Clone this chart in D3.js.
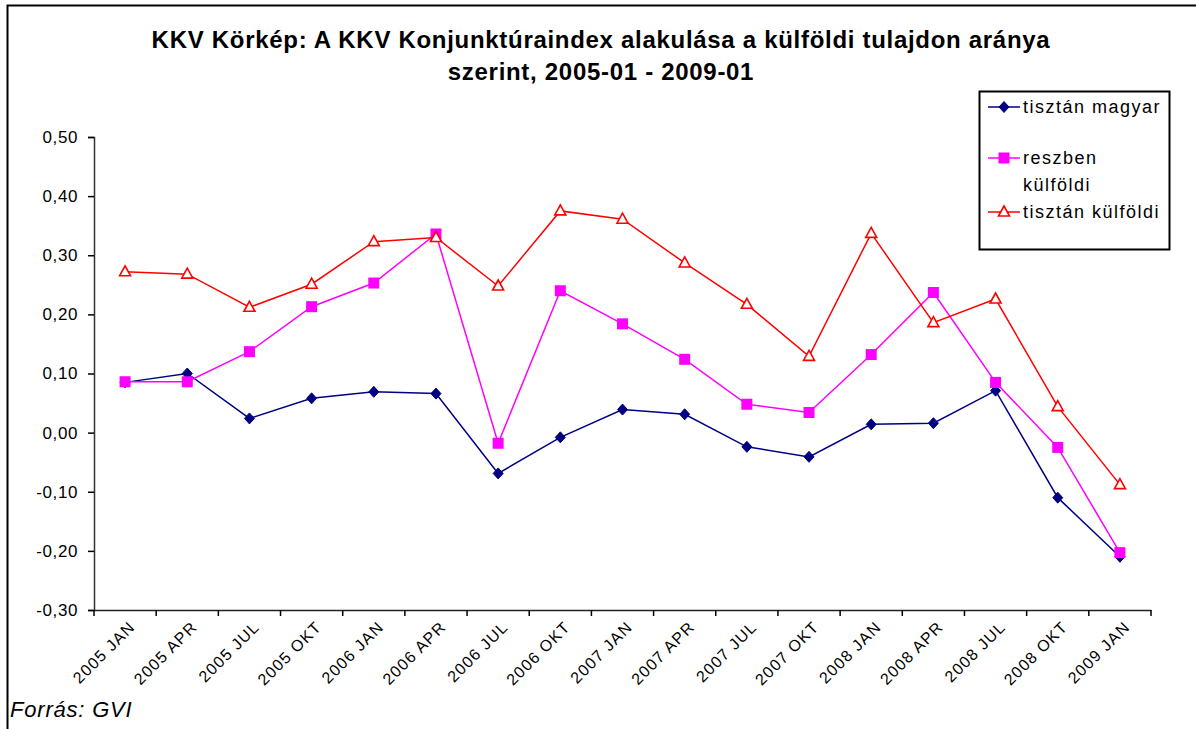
<!DOCTYPE html>
<html>
<head>
<meta charset="utf-8">
<script src="https://cdn.jsdelivr.net/npm/d3@7"></script>
<style>
body { margin: 0; background: #fff; }
svg { display: block; font-family: "Liberation Sans", Arial, sans-serif; }
</style>
</head>
<body>
<div id="chart"></div>
<script>
var categories = ["2005 JAN", "2005 APR", "2005 JUL", "2005 OKT", "2006 JAN", "2006 APR", "2006 JUL", "2006 OKT",
    "2007 JAN", "2007 APR", "2007 JUL", "2007 OKT", "2008 JAN", "2008 APR", "2008 JUL", "2008 OKT", "2009 JAN"];

var magyar = [0.085, 0.100, 0.024, 0.058, 0.069, 0.066, -0.069, -0.008, 0.039, 0.031, -0.024, -0.041, 0.014, 0.016, 0.071, -0.110, -0.210];
var reszben = [0.086, 0.086, 0.137, 0.213, 0.253, 0.336, -0.018, 0.240, 0.184, 0.124, 0.048, 0.034, 0.132, 0.237, 0.085, -0.025, -0.203];
var kulfoldi = [0.272, 0.268, 0.212, 0.251, 0.323, 0.330, 0.248, 0.375, 0.361, 0.287, 0.217, 0.129, 0.337, 0.186, 0.226, 0.044, -0.088];

var yTicks = [0.5, 0.4, 0.3, 0.2, 0.1, 0, -0.1, -0.2, -0.3];

var series = [
    {name: "tisztán magyar", values: magyar, color: "#000080", marker: "diamond"},
    {name: "reszben külföldi", values: reszben, color: "#ff00ff", marker: "square"},
    {name: "tisztán külföldi", values: kulfoldi, color: "#ff0000", marker: "triangle"}
];

var W = 1196, H = 729;
var plotLeft = 94, plotRight = 1151, plotTop = 137, plotBottom = 610;

var svg = d3.select("#chart").append("svg")
    .attr("width", W)
    .attr("height", H);

// outer frame (right/bottom edge fall outside the picture)
svg.append("rect")
    .attr("x", 7.5).attr("y", 5.5)
    .attr("width", 1210).attr("height", 760)
    .attr("fill", "none").attr("stroke", "#000").attr("stroke-width", 2);

var x = d3.scaleBand().domain(categories).range([plotLeft, plotRight]);
var y = d3.scaleLinear().domain([-0.3, 0.5]).range([plotBottom, plotTop]);

var fmt = function(v) {
    return d3.format(".2f")(v).replace(".", ",").replace("−", "-");
};

// y axis
var yAxis = svg.append("g")
    .attr("transform", "translate(" + plotLeft + ",0)")
    .call(d3.axisLeft(y).tickValues(yTicks).tickSize(6).tickPadding(10).tickFormat(fmt));
yAxis.select(".domain").attr("stroke", "#333").attr("stroke-width", 1.5);
yAxis.selectAll(".tick line").attr("stroke", "#000").attr("stroke-width", 1.5);
yAxis.selectAll("text").attr("font-size", 17).attr("fill", "#000").attr("letter-spacing", 0.6);

// x axis
var xAxis = svg.append("g")
    .attr("transform", "translate(0," + plotBottom + ")")
    .call(d3.axisBottom(x).tickSize(0).tickFormat(""));
xAxis.select(".domain").attr("stroke", "#222").attr("stroke-width", 1.5);
xAxis.selectAll(".tick").remove();

var tickPos = categories.map(function(c) { return x(c); }).concat([plotRight]);
svg.append("g").selectAll("line")
    .data(tickPos)
    .enter().append("line")
    .attr("x1", function(d) { return d; })
    .attr("x2", function(d) { return d; })
    .attr("y1", plotBottom)
    .attr("y2", plotBottom + 6)
    .attr("stroke", "#000")
    .attr("stroke-width", 1.5);

svg.append("g").selectAll("text")
    .data(categories)
    .enter().append("text")
    .attr("transform", function(d) {
        return "translate(" + (x(d) + x.bandwidth() / 2 + 11) + "," + (plotBottom + 18) + ") rotate(-45)";
    })
    .attr("text-anchor", "end")
    .attr("font-size", 16)
    .attr("letter-spacing", 1.2)
    .attr("fill", "#000")
    .text(function(d) { return d; });

// lines + markers
var cx = function(i) { return x(categories[i]) + x.bandwidth() / 2; };

var line = d3.line()
    .x(function(d, i) { return cx(i); })
    .y(function(d) { return y(d); });

function drawMarker(g, type, color, px, py) {
    if (type == "diamond") {
        g.append("path")
            .attr("d", "M" + px + "," + (py - 5.5) + "L" + (px + 5) + "," + py + "L" + px + "," + (py + 5.5) + "L" + (px - 5) + "," + py + "Z")
            .attr("fill", color)
            .attr("stroke", color)
            .attr("stroke-width", 1)
            .attr("stroke-linejoin", "round");
    } else if (type == "square") {
        g.append("rect")
            .attr("x", px - 5.5).attr("y", py - 5.5)
            .attr("width", 11).attr("height", 11)
            .attr("fill", color);
    } else {
        g.append("path")
            .attr("d", "M" + px + "," + (py - 6) + "L" + (px + 5.5) + "," + (py + 4) + "L" + (px - 5.5) + "," + (py + 4) + "Z")
            .attr("fill", "#fff")
            .attr("stroke", color)
            .attr("stroke-width", 1.6);
    }
}

series.forEach(function(s) {
    var g = svg.append("g");
    g.append("path")
        .datum(s.values)
        .attr("d", line)
        .attr("fill", "none")
        .attr("stroke", s.color)
        .attr("stroke-width", 1.5);
    s.values.forEach(function(v, i) {
        drawMarker(g, s.marker, s.color, cx(i), y(v));
    });
});

// legend
var legend = svg.append("g");
legend.append("rect")
    .attr("x", 979.5).attr("y", 91.5)
    .attr("width", 190).attr("height", 158)
    .attr("fill", "#fff").attr("stroke", "#000").attr("stroke-width", 2);

var legendRows = [
    {s: series[0], y: 107, lines: ["tisztán magyar"]},
    {s: series[1], y: 158, lines: ["reszben", "külföldi"]},
    {s: series[2], y: 212, lines: ["tisztán külföldi"]}
];
legendRows.forEach(function(r) {
    legend.append("line")
        .attr("x1", 988).attr("x2", 1020)
        .attr("y1", r.y).attr("y2", r.y)
        .attr("stroke", r.s.color).attr("stroke-width", 1.5);
    drawMarker(legend, r.s.marker, r.s.color, 1004, r.y);
    r.lines.forEach(function(t, k) {
        legend.append("text")
            .attr("x", 1023)
            .attr("y", r.y + 6 + k * 27)
            .attr("font-size", 18)
            .attr("letter-spacing", 1.5)
            .attr("fill", "#000")
            .text(t);
    });
});

// title
svg.append("text")
    .attr("x", 601).attr("y", 48)
    .attr("text-anchor", "middle")
    .attr("font-size", 24).attr("font-weight", "bold").attr("letter-spacing", 0.7)
    .text("KKV Körkép: A KKV Konjunktúraindex alakulása a külföldi tulajdon aránya");
svg.append("text")
    .attr("x", 601).attr("y", 80)
    .attr("text-anchor", "middle")
    .attr("font-size", 24).attr("font-weight", "bold").attr("letter-spacing", 0.7)
    .text("szerint, 2005-01 - 2009-01");

// source
svg.append("text")
    .attr("x", 10).attr("y", 717)
    .attr("font-size", 22).attr("font-style", "italic").attr("letter-spacing", 0.8)
    .text("Forrás: GVI");
</script>
</body>
</html>
